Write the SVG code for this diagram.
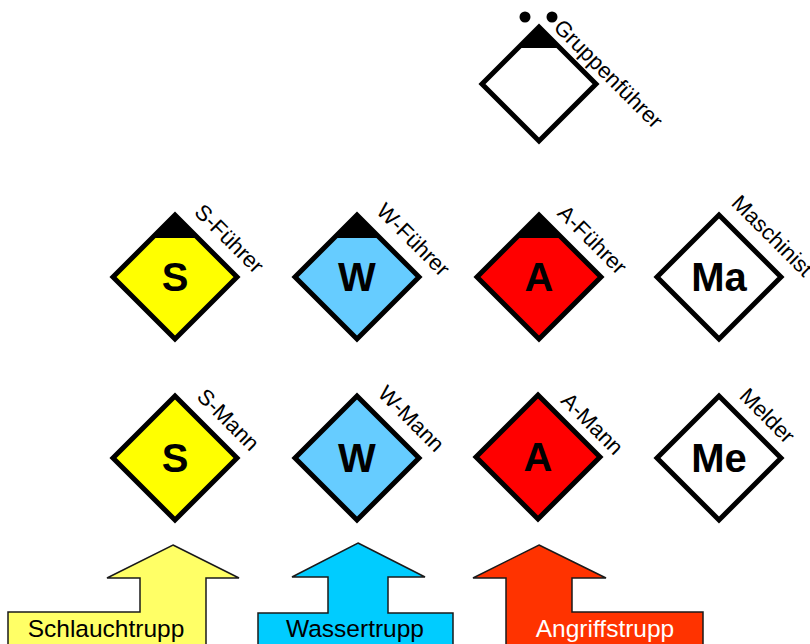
<svg xmlns="http://www.w3.org/2000/svg" width="810" height="644" viewBox="0 0 810 644">
<style>
.dia{stroke:#000;stroke-width:5;stroke-linejoin:miter}
.cap{fill:#000}
.let{font-family:"Liberation Sans",Arial,sans-serif;font-weight:bold;font-size:40px;text-anchor:middle;fill:#000}
.lab{font-family:"Liberation Sans",Arial,sans-serif;font-size:22px;text-anchor:middle;fill:#000}
.arr{stroke:#1a1a1a;stroke-width:1.5;stroke-linejoin:miter}
.trupp{font-family:"Liberation Sans",Arial,sans-serif;font-size:24.5px;text-anchor:middle}
</style>
<rect width="810" height="644" fill="#fff"/>
<g id="gruppenfuehrer">
<path class="dia" d="M539,27 L596,84 L539,141 L482,84 Z" fill="#fff"/>
<path class="cap" d="M539,27 L560,48 L518,48 Z"/>
<circle cx="525" cy="17" r="5.5"/>
<circle cx="552" cy="17" r="5.5"/>
<text class="lab" transform="translate(603,79) rotate(45)">Gruppenführer</text>
</g>
<g id="s-fuehrer">
<path class="dia" d="M175,215 L237,277 L175,339 L113,277 Z" fill="#ffff00"/>
<path class="cap" d="M175,215 L198,238 L152,238 Z"/>
<text class="let" x="175" y="291">S</text>
<text class="lab" transform="translate(224,244) rotate(45)">S-Führer</text>
</g>
<g id="w-fuehrer">
<path class="dia" d="M357,215 L419,277 L357,339 L295,277 Z" fill="#66ccff"/>
<path class="cap" d="M357,215 L380,238 L334,238 Z"/>
<text class="let" x="357" y="291">W</text>
<text class="lab" transform="translate(408,245) rotate(45)">W-Führer</text>
</g>
<g id="a-fuehrer">
<path class="dia" d="M539,215 L601,277 L539,339 L477,277 Z" fill="#ff0000"/>
<path class="cap" d="M539,215 L562,238 L516,238 Z"/>
<text class="let" x="539" y="291">A</text>
<text class="lab" transform="translate(587,245) rotate(45)">A-Führer</text>
</g>
<g id="maschinist">
<path class="dia" d="M719,215 L781,277 L719,339 L657,277 Z" fill="#fff"/>
<text class="let" x="719" y="291">Ma</text>
<text class="lab" transform="translate(767,241) rotate(45)">Maschinist</text>
</g>
<g id="s-mann">
<path class="dia" d="M175,396 L237,458 L175,520 L113,458 Z" fill="#ffff00"/>
<text class="let" x="175" y="472">S</text>
<text class="lab" transform="translate(223,425) rotate(45)">S-Mann</text>
</g>
<g id="w-mann">
<path class="dia" d="M357,396 L419,458 L357,520 L295,458 Z" fill="#66ccff"/>
<text class="let" x="357" y="472">W</text>
<text class="lab" transform="translate(406,424) rotate(45)">W-Mann</text>
</g>
<g id="a-mann">
<path class="dia" d="M538,395 L600,457 L538,519 L476,457 Z" fill="#ff0000"/>
<text class="let" x="538" y="471">A</text>
<text class="lab" transform="translate(587,429) rotate(45)">A-Mann</text>
</g>
<g id="melder">
<path class="dia" d="M719,396 L781,458 L719,520 L657,458 Z" fill="#fff"/>
<text class="let" x="719" y="472">Me</text>
<text class="lab" transform="translate(762,421) rotate(45)">Melder</text>
</g>
<g id="connectors">
<g id="schlauchtrupp">
<path class="arr" fill="#ffff66" d="M173,545 L239,578 L206,578 L206,650 L8,650 L8,612 L140,612 L140,578 L107,578 Z"/>
<text class="trupp" x="106" y="637" fill="#000">Schlauchtrupp</text>
</g>
<g id="wassertrupp">
<path class="arr" fill="#00ccff" d="M358,543 L425,577 L388,577 L388,613 L453,613 L453,650 L258,650 L258,613 L328,613 L328,577 L292,577 Z"/>
<text class="trupp" x="355" y="637" fill="#000">Wassertrupp</text>
</g>
<g id="angriffstrupp">
<path class="arr" fill="#ff3300" d="M539,545 L606,578 L572,578 L572,612 L703,612 L703,650 L506,650 L506,578 L473,578 Z"/>
<text class="trupp" x="605" y="637" fill="#fff">Angriffstrupp</text>
</g>
</g>
</svg>
